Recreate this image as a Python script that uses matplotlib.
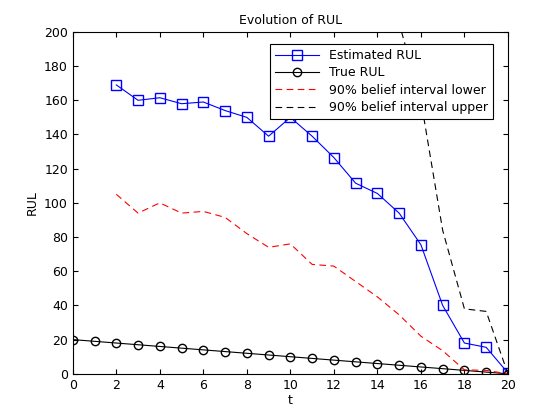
import numpy as np
import matplotlib.pyplot as plt

t_est = list(range(2, 21))
est_rul = [169, 160, 161.5, 158, 159, 154, 150, 139, 150, 139, 126.5, 111.5, 105.5, 94, 75.5, 40, 18, 15.5, 0.5]
t_true = list(range(0, 21))
true_rul = [20, 19, 18, 17, 16, 15, 14, 13, 12, 11, 10, 9, 8, 7, 6, 5, 4, 3, 2, 1, 0]
lower = [105, 94, 100, 94, 95, 91.5, 82, 74, 76, 64, 63, 54, 45, 34.5, 22, 13.5, 2.3, 2, 0]
t_up = list(range(14, 21))
upper = [280, 205, 160, 84, 38, 36.5, 0]

fig = plt.figure(figsize=(5.6, 4.2), dpi=100)
ax = fig.add_axes([0.130, 0.110, 0.777, 0.814])

ax.plot(t_est, est_rul, 'b-s', lw=0.8, ms=7, mfc='none', mec='b', label='Estimated RUL')
ax.plot(t_true, true_rul, 'k-o', lw=0.8, ms=6, mfc='none', label='True RUL')
ax.plot(t_est, lower, 'r--', lw=0.8, dashes=(6, 4), label='90% belief interval lower')
ax.plot(t_up, upper, 'k--', lw=0.8, dashes=(6, 4), label='90% belief interval upper')

ax.set_xlim(0, 20)
ax.set_ylim(0, 200)
ax.set_xticks(range(0, 21, 2))
ax.set_yticks(range(0, 201, 20))
ax.tick_params(direction='in', top=True, right=True, labelsize=9)
ax.set_xlabel('t', fontsize=9, labelpad=2)
ax.set_ylabel('RUL', fontsize=9)
ax.set_title('Evolution of RUL', fontsize=9)

leg = ax.legend(loc='upper right', bbox_to_anchor=(0.965, 0.965), fontsize=9,
                fancybox=False, framealpha=1, edgecolor='k', borderaxespad=0,
                handlelength=3.5, labelspacing=0.35)
leg.get_frame().set_linewidth(0.8)

fig.savefig('out.png', dpi=100)
